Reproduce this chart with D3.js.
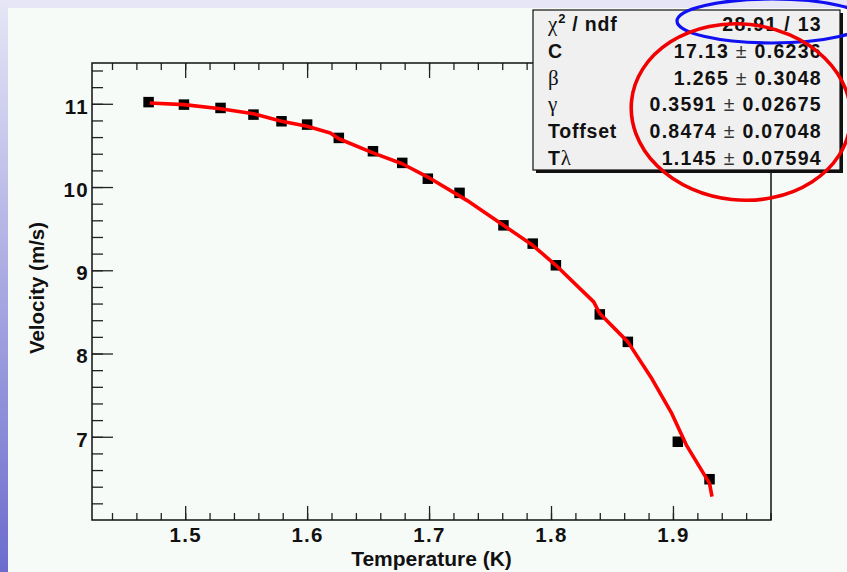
<!DOCTYPE html>
<html><head><meta charset="utf-8">
<script src="https://cdn.jsdelivr.net/npm/d3@7"></script>
<style>
body{margin:0;background:#f7fbf8;}
svg{display:block;}
text{font-family:"Liberation Sans",Arial,Helvetica,sans-serif;}
</style>
</head><body>
<svg id="chart" width="847" height="572"></svg>
<script>
// ---- data ----
const temperature = [1.470,1.499,1.529,1.556,1.579,1.600,1.626,1.654,1.678,1.699,1.725,1.761,1.785,1.804,1.840,1.863,1.904,1.930];
const velocity    = [11.02,10.99,10.95,10.87,10.79,10.75,10.59,10.43,10.29,10.10,9.93,9.54,9.32,9.06,8.47,8.14,6.94,6.49];
// fitted curve
const fitT = [1.471,1.499,1.529,1.556,1.579,1.600,1.619,1.626,1.654,1.678,1.699,1.731,1.761,1.785,1.804,1.835,1.840,1.863,1.883,1.899,1.911,1.930,1.932];
const fitV = [11.01,10.99,10.94,10.88,10.79,10.73,10.65,10.58,10.41,10.28,10.12,9.84,9.54,9.30,9.06,8.62,8.48,8.14,7.69,7.28,6.90,6.44,6.28];
const xTickLabels = [1.5,1.6,1.7,1.8,1.9];
const yTickLabels = [7,8,9,10,11];
const statNames  = ["chi2","C","beta","gamma","Toffset","Tlambda"];
const statValues = ["28.91","17.13","1.265","0.3591","0.8474","1.145"];
const statErrors = ["13","0.6236","0.3048","0.02675","0.07048","0.07594"];
const xTitle = "Temperature (K)";
const yTitle = "Velocity (m/s)";

const W = 847, H = 572;
const svg = d3.select("#chart");

// ---- background ----
const defs = svg.append("defs");
const lg = defs.append("linearGradient").attr("id","side").attr("x1",0).attr("y1",0).attr("x2",0).attr("y2",1);
lg.append("stop").attr("offset","0%").attr("stop-color","#e6e6f6");
lg.append("stop").attr("offset","100%").attr("stop-color","#6c6cce");
svg.append("rect").attr("width",W).attr("height",H).attr("fill","#e6e6f6");
svg.append("rect").attr("x",0).attr("y",0).attr("width",8).attr("height",H).attr("fill","url(#side)");
svg.append("rect").attr("x",8).attr("y",8).attr("width",W-8).attr("height",H-8).attr("fill","#f7fbf8");

// ---- scales ----
const x = d3.scaleLinear().domain([1.4236,1.9804]).range([92,771]);
const y = d3.scaleLinear().domain([6.0,11.49]).range([520,63]);

const xMinor = d3.range(1.44,1.981,0.02);
const yMinor = d3.range(6.2,11.41,0.2);

function styleAxis(g){
  g.select(".domain").remove();
  g.selectAll(".tick line").attr("stroke","#222").attr("stroke-width",1.3);
}

// bottom axis
svg.append("g").attr("transform","translate(0,520)")
  .call(d3.axisBottom(x).tickValues(xMinor).tickSize(-7).tickFormat(""))
  .call(styleAxis);
svg.append("g").attr("transform","translate(0,520)")
  .call(d3.axisBottom(x).tickValues(xTickLabels).tickSize(-14).tickPadding(7).tickFormat(d3.format(".1f")))
  .call(styleAxis)
  .call(g=>g.selectAll("text").attr("fill","#111").style("font-size","20.5px").style("font-weight","bold").style("letter-spacing","1.3px"));
// top axis (ticks pointing down)
svg.append("g").attr("transform","translate(0,63)")
  .call(d3.axisTop(x).tickValues(xMinor).tickSize(-7).tickFormat(""))
  .call(styleAxis);
svg.append("g").attr("transform","translate(0,63)")
  .call(d3.axisTop(x).tickValues(xTickLabels).tickSize(-15).tickFormat(""))
  .call(styleAxis);
// left axis
svg.append("g").attr("transform","translate(92,0)")
  .call(d3.axisLeft(y).tickValues(yMinor).tickSize(-11).tickFormat(""))
  .call(styleAxis);
svg.append("g").attr("transform","translate(92,0)")
  .call(d3.axisLeft(y).tickValues(yTickLabels).tickSize(-21).tickPadding(3).tickFormat(d3.format("d")))
  .call(styleAxis)
  .call(g=>g.selectAll("text").attr("fill","#111").attr("dy","0.46em").style("font-size","20.5px").style("font-weight","bold").style("letter-spacing","1.3px"));

// frame
svg.append("rect").attr("x",92).attr("y",63).attr("width",771-92).attr("height",520-63)
  .attr("fill","none").attr("stroke","#111").attr("stroke-width",1.5);

// axis titles
svg.append("text").attr("x",(92+771)/2).attr("y",566).attr("text-anchor","middle")
  .style("font-size","21px").style("font-weight","bold").attr("fill","#111").text(xTitle);
svg.append("text").attr("transform","translate(43.5,288) rotate(-90)").attr("text-anchor","middle")
  .style("font-size","20.5px").style("font-weight","bold").attr("fill","#111").text(yTitle);

// data markers
const pts = temperature.map((t,i)=>({t, v:velocity[i]}));
const ms = 10.5;
svg.append("g").selectAll("rect").data(pts).join("rect")
  .attr("x",d=>x(d.t)-ms/2).attr("y",d=>y(d.v)-ms/2).attr("width",ms).attr("height",ms).attr("fill","#000");

// fit curve
const fit = fitT.map((t,i)=>({t, v:fitV[i]}));
svg.append("path").datum(fit)
  .attr("d",d3.line().x(d=>x(d.t)).y(d=>y(d.v)))
  .attr("fill","none").attr("stroke","#ff0000").attr("stroke-width",3.6).attr("stroke-linejoin","round");

// ---- stats box ----
const bx=533, by=10, bw=307, bh=160;
svg.append("rect").attr("x",bx+3).attr("y",by+3).attr("width",bw).attr("height",bh).attr("fill","#111");
svg.append("rect").attr("x",bx).attr("y",by).attr("width",bw).attr("height",bh).attr("fill","#f0f0f0").attr("stroke","#111").attr("stroke-width",1.2);

const greek = "'Liberation Serif','DejaVu Serif',serif";
const sg = svg.append("g").style("font-size","19.5px").attr("fill","#111");
statNames.forEach((n,i)=>{
  const yy = 31 + i*26.8;
  const lab = sg.append("text").attr("x",548).attr("y",yy).style("letter-spacing","0.8px");
  if(n==="chi2"){
    lab.append("tspan").style("font-family",greek).style("font-size","21px").text("χ");
    lab.append("tspan").attr("dy",-8).style("font-size","13px").style("font-weight","bold").text("2");
    lab.append("tspan").attr("dy",8).style("font-weight","bold").text(" / ndf");
  } else if(n==="beta"){
    lab.append("tspan").style("font-family",greek).style("font-size","21px").text("β");
  } else if(n==="gamma"){
    lab.append("tspan").style("font-family",greek).style("font-size","21px").text("γ");
  } else if(n==="Tlambda"){
    lab.append("tspan").style("font-weight","bold").text("T");
    lab.append("tspan").style("font-family",greek).style("font-size","21px").text("λ");
  } else {
    lab.append("tspan").style("font-weight","bold").text(n);
  }
  const val = sg.append("text").attr("x",822).attr("y",yy).attr("text-anchor","end").style("letter-spacing","1.3px");
  val.append("tspan").style("font-weight","bold").text(statValues[i]);
  if(n==="chi2"){
    val.append("tspan").style("font-weight","bold").text(" / " + statErrors[i]);
  } else {
    val.append("tspan").style("font-weight","normal").attr("fill","#333").text(" ± ");
    val.append("tspan").style("font-weight","bold").text(statErrors[i]);
  }
});

// ---- annotation ellipses ----
svg.append("ellipse").attr("cx",772).attr("cy",21).attr("rx",95).attr("ry",22)
  .attr("fill","none").attr("stroke","#1010f0").attr("stroke-width",3.2);
svg.append("ellipse").attr("transform","translate(741,112) rotate(6)").attr("rx",110).attr("ry",88)
  .attr("fill","none").attr("stroke","#f00000").attr("stroke-width",3.6);
</script>
</body></html>
